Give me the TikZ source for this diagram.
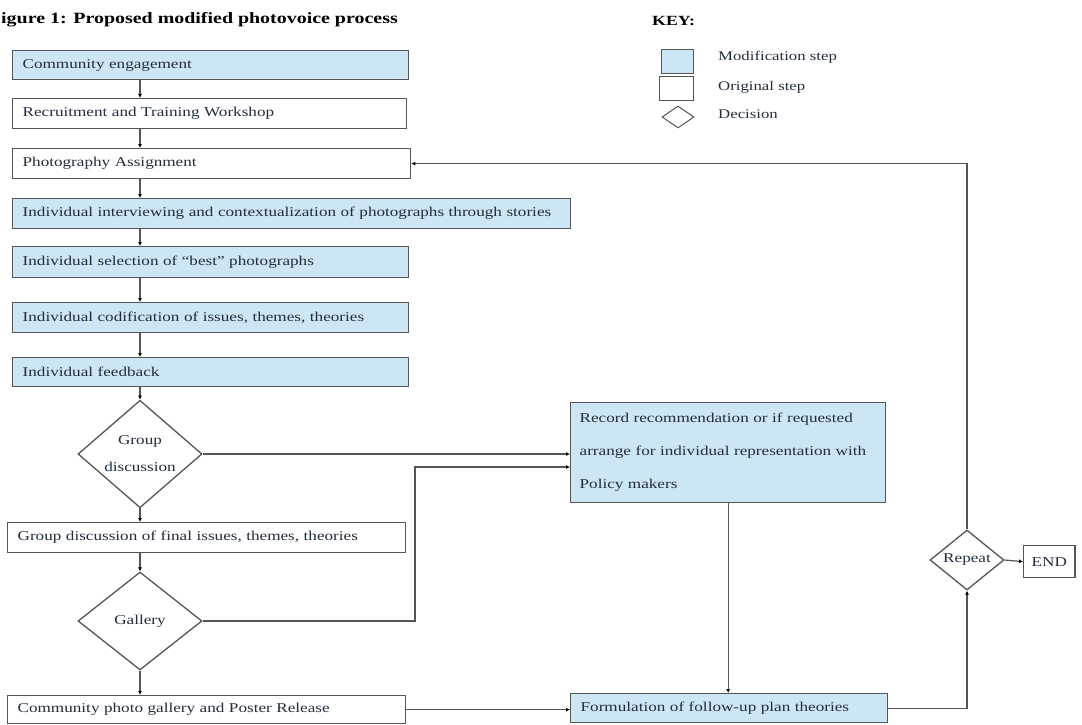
\documentclass[tikz,border=0pt]{standalone}
\usepackage{fontspec}
\setmainfont{Liberation Serif}[FakeStretch=1.27]
\usetikzlibrary{shapes.geometric,arrows.meta}
\definecolor{boxblue}{RGB}{205,230,245}
\definecolor{edgegray}{RGB}{85,85,85}
\definecolor{txt}{RGB}{35,45,60}
\begin{document}
\begin{tikzpicture}[x=1pt,y=-1pt,
  every node/.style={font=\fontsize{13.5}{16}\selectfont, text=txt},
  box/.style={draw=edgegray, line width=1.3pt, rectangle, anchor=north west, inner xsep=10pt, inner ysep=0pt, align=left, minimum height=30pt},
  modbox/.style={box, fill=boxblue},
  orgbox/.style={box, fill=white},
  dec/.style={draw=edgegray, line width=1.3pt, diamond, inner sep=0pt, align=center, fill=white},
  conn/.style={draw=edgegray, line width=1.2pt, -{Latex[length=4pt,width=4pt,black]}},
  keylabel/.style={anchor=base west, inner sep=0pt, font=\fontsize{13.2}{16}\selectfont}
]
\useasboundingbox (0,0) rectangle (1082,725);

% title and key
\node[anchor=base west, inner sep=0pt, font=\fontsize{15.7}{18}\selectfont\bfseries, text=black] (title) at (1,24) {igure 1: Proposed modified photovoice process};
\node[anchor=base west, inner sep=0pt, font=\fontsize{14}{16}\selectfont\bfseries, text=black] (key) at (652,26) {KEY:};
\node[draw=edgegray, fill=boxblue, line width=1pt, minimum width=32pt, minimum height=24pt, anchor=north west, inner sep=0pt] (k1) at (661,49) {};
\node[draw=edgegray, fill=white, line width=1pt, minimum width=34pt, minimum height=24pt, anchor=north west, inner sep=0pt] (k2) at (659,76) {};
\node[draw=edgegray, fill=white, line width=1pt, diamond, minimum width=32pt, minimum height=22pt, inner sep=0pt] (k3) at (678,117) {};
\node[keylabel] (l1) at (718,60) {Modification step};
\node[keylabel] (l2) at (718,91) {Original step};
\node[keylabel] (l3) at (718,118) {Decision};

% left column
\coordinate (ax) at (140,0);
\node[modbox, text width=376pt, minimum height=29pt] (b1) at (12,50) {Community engagement};
\node[orgbox, text width=374pt] (b2) at (12,98) {Recruitment and Training Workshop};
\node[orgbox, text width=378pt] (b3) at (12,148) {Photography Assignment};
\node[modbox, text width=538pt] (b4) at (12,198) {Individual interviewing and contextualization of photographs through stories};
\node[modbox, text width=376pt, minimum height=31pt] (b5) at (12,246) {Individual selection of “best” photographs};
\node[modbox, text width=376pt] (b6) at (12,302) {Individual codification of issues, themes, theories};
\node[modbox, text width=376pt, minimum height=29pt] (b7) at (12,357) {Individual feedback};
\node[dec, minimum width=124pt, minimum height=100pt, font=\fontsize{13.5}{27}\selectfont] (g1) at (140,454) {Group\\discussion};
\node[orgbox, text width=378pt] (b8) at (7,522) {Group discussion of final issues, themes, theories};
\node[dec, minimum width=124pt, minimum height=98pt] (gal) at (140,621) {Gallery};
\node[orgbox, text width=378pt, minimum height=28pt] (b9) at (7,695) {Community photo gallery and Poster Release};

% right side
\node[modbox, text width=297pt, inner xsep=9pt, minimum height=100pt, font=\fontsize{13.5}{33}\selectfont] (rec) at (570,402) {Record recommendation or if requested\\arrange for individual representation with\\Policy makers\\[-8pt]};
\node[modbox, text width=297pt, minimum height=29pt] (form) at (570,693) {Formulation of follow-up plan theories};
\node[dec, minimum width=74pt, minimum height=60pt] (rep) at (967,560) {Repeat};
\node[orgbox, minimum width=50pt, minimum height=32pt, inner xsep=8pt] (endb) at (1023,545) {END};

% connectors
\draw[conn] (b1.south -| ax) -- (b2.north -| ax);
\draw[conn] (b2.south -| ax) -- (b3.north -| ax);
\draw[conn] (b3.south -| ax) -- (b4.north -| ax);
\draw[conn] (b4.south -| ax) -- (b5.north -| ax);
\draw[conn] (b5.south -| ax) -- (b6.north -| ax);
\draw[conn] (b6.south -| ax) -- (b7.north -| ax);
\draw[conn] (b7.south -| ax) -- (g1.north);
\draw[conn] (g1.south) -- (b8.north -| ax);
\draw[conn] (b8.south -| ax) -- (gal.north);
\draw[conn] (gal.south) -- (b9.north -| ax);
\draw[conn] (g1.east) -- (g1.east -| rec.west);
\coordinate (jog) at (415,467);
\draw[conn] (gal.east) -| (jog) -- (jog -| rec.west);
\draw[conn] (rec.south) -- (rec.south |- form.north);
\draw[conn] (b9.east) -- (b9.east -| form.west);
\draw[conn] (form.east) -| (rep.south);
\draw[conn] (rep.north) |- (b3.east);
\draw[conn] (rep.east) -- (endb.west);
\end{tikzpicture}
\end{document}
